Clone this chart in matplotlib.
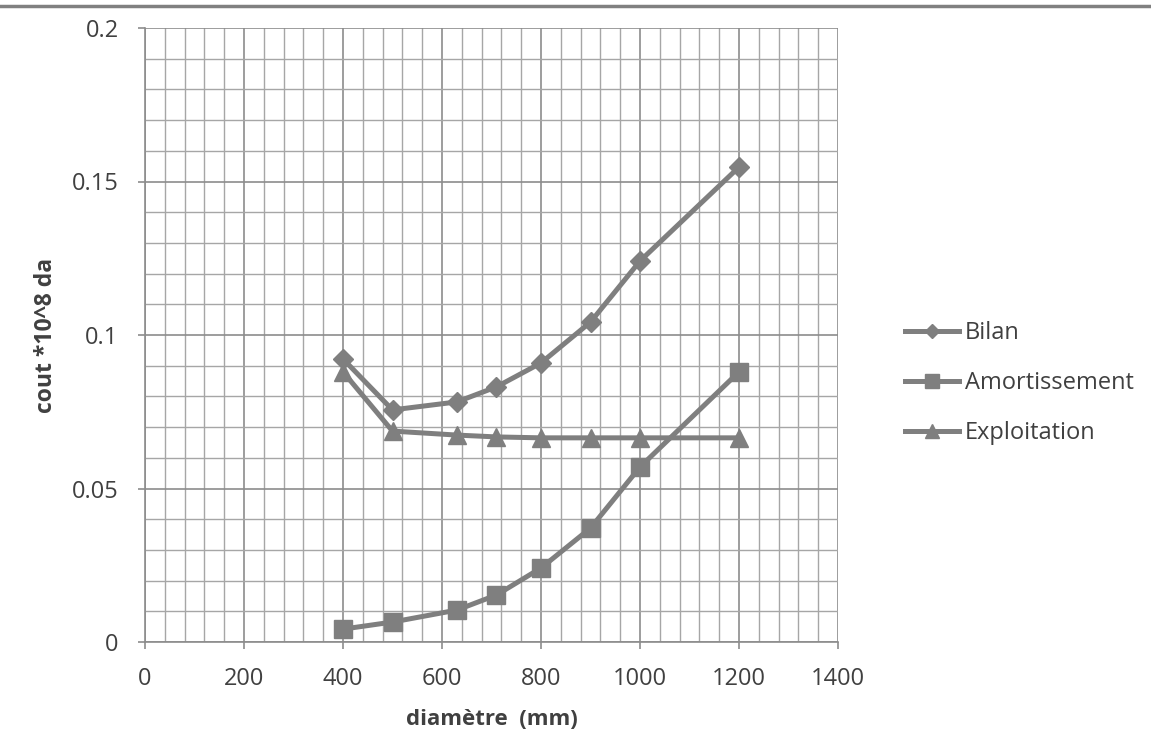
import numpy as np
from matplotlib import pyplot as plt
from matplotlib.lines import Line2D
from matplotlib.ticker import MultipleLocator

# diameters (mm)
diametres = [400, 500, 630, 710, 800, 900, 1000, 1200]

# cost values (*10^8 da)
bilan = [0.0922, 0.0756, 0.0782, 0.0831, 0.0909, 0.1042, 0.1241, 0.1547]
amortissement = [0.0042, 0.0065, 0.0104, 0.0153, 0.0241, 0.0371, 0.0570, 0.0880]
exploitation = [0.0880, 0.0687, 0.0674, 0.0668, 0.0665, 0.0665, 0.0665, 0.0665]

series_labels = ["Bilan", "Amortissement", "Exploitation"]
x_ticks = [0, 200, 400, 600, 800, 1000, 1200, 1400]
y_ticks = [0, 0.05, 0.1, 0.15, 0.2]
y_ticklabels = ["0", "0.05", "0.1", "0.15", "0.2"]

plt.rcParams['font.family'] = ['Open Sans', 'DejaVu Sans']

line_col = '#7f7f7f'
grid_col = '#a6a6a6'
text_col = '#404040'

fig = plt.figure(figsize=(11.51, 7.55), dpi=100)
ax = fig.add_axes([145 / 1151, 1 - 642 / 755, 693 / 1151, 614 / 755])

ax.plot(diametres, bilan, color=line_col, lw=3.6, marker='D', ms=10,
        label=series_labels[0], zorder=5)
ax.plot(diametres, amortissement, color=line_col, lw=3.6, marker='s', ms=13,
        label=series_labels[1], zorder=5)
ax.plot(diametres, exploitation, color=line_col, lw=3.6, marker='^', ms=13,
        label=series_labels[2], zorder=5)

ax.set_xlim(0, 1400)
ax.set_ylim(0, 0.2)
ax.set_xticks(x_ticks)
ax.set_yticks(y_ticks)
ax.set_yticklabels(y_ticklabels)
ax.xaxis.set_minor_locator(MultipleLocator(40))
ax.yaxis.set_minor_locator(MultipleLocator(0.01))

ax.grid(True, which='major', color='#8c8c8c', lw=1.2)
ax.grid(True, which='minor', color=grid_col, lw=1.0)
ax.set_axisbelow(True)

for side in ['top', 'right']:
    ax.spines[side].set_visible(False)
for side in ['left', 'bottom']:
    ax.spines[side].set_color('#8c8c8c')
    ax.spines[side].set_linewidth(1.2)

ax.tick_params(which='major', direction='out', length=5, width=1.2, color='#8c8c8c',
               labelsize=17, labelcolor=text_col)
ax.tick_params(axis='x', which='major', pad=13)
ax.tick_params(axis='y', which='major', pad=14)
ax.tick_params(which='minor', length=0)

ax.set_xlabel("diamètre  (mm)", fontsize=16, fontweight='bold', color=text_col, labelpad=13)
ax.set_ylabel("cout *10^8 da", fontsize=16.5, fontweight='bold', color=text_col, labelpad=10)

leg = ax.legend(loc='center left', bbox_to_anchor=(1.0967, 0.4218), frameon=False,
                fontsize=17, labelspacing=1.1, handlelength=2.3, handletextpad=0.25,
                borderpad=0, borderaxespad=0, markerscale=0.75)
for t in leg.get_texts():
    t.set_color(text_col)

# frame line at the very top of the image
fig.add_artist(Line2D([0, 1], [1 - 6 / 755, 1 - 6 / 755], color='#808080', lw=2.5))

plt.savefig("out.png", dpi=100)
plt.close()
